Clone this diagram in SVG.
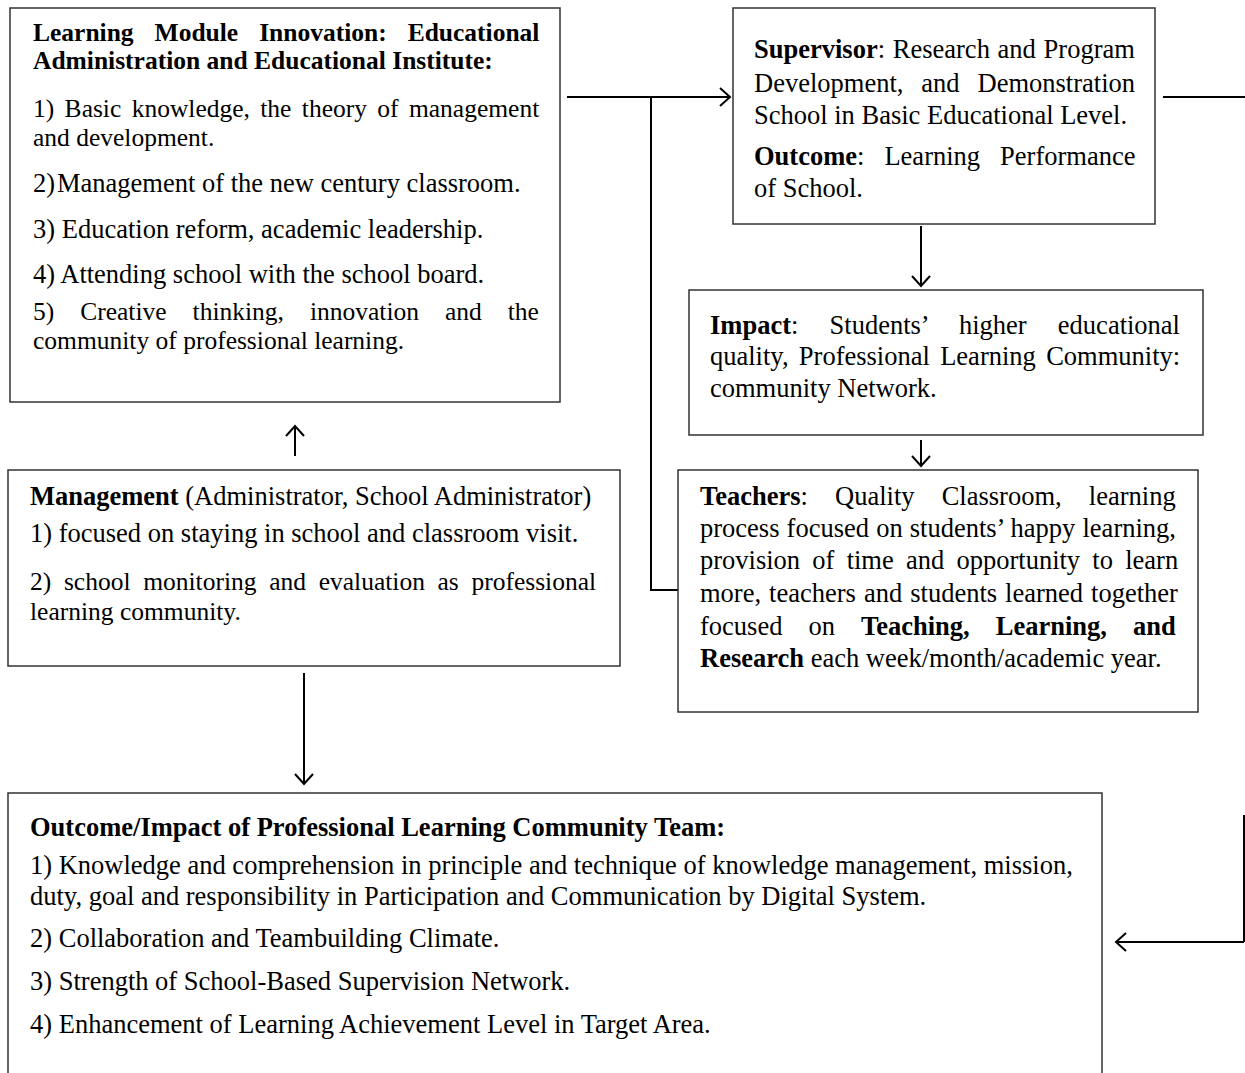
<svg xmlns="http://www.w3.org/2000/svg" width="1245" height="1073" viewBox="0 0 1245 1073">
<defs>
<marker id="ah" markerUnits="userSpaceOnUse" markerWidth="24" markerHeight="24" viewBox="-12 -12 24 24" refX="0" refY="0" orient="auto">
<path d="M-10,-9 L0,0 L-10,9" fill="none" stroke="#000" stroke-width="2"/>
</marker>
<style>
.box{fill:#fff;stroke:#333;stroke-width:1.5}
text{font-family:"Liberation Serif","Times New Roman",serif;font-size:26.5px;fill:#000}
.t{font-size:25.5px}
.b{font-weight:bold}
.ln{fill:none;stroke:#000;stroke-width:2}
.ar{fill:none;stroke:#000;stroke-width:2;marker-end:url(#ah)}
</style>
</defs>
<rect width="1245" height="1073" fill="#fff"/>

<g id="connectors">
<path class="ar" d="M567,97 H730"/>
<path class="ln" d="M651,97 V590 H678"/>
<path class="ln" d="M1163,97 H1245"/>
<path class="ln" d="M1244,815 V942"/>
<path class="ar" d="M1244,942 H1116"/>
<path class="ar" d="M921,226 V286"/>
<path class="ar" d="M921,440 V466"/>
<path class="ar" d="M295,456 V426"/>
<path class="ar" d="M304,673 V784"/>
</g>

<g id="module">
<rect class="box" x="10" y="8" width="550" height="394"/>
<text x="33" y="41" class="b t" style="word-spacing:14.6px">Learning Module Innovation: Educational</text>
<text x="33" y="69" class="b t">Administration and Educational Institute:</text>
<text x="33" y="117" class="t" style="word-spacing:4px">1) Basic knowledge, the theory of management</text>
<text x="33" y="146" class="t">and development.</text>
<text x="33" y="192">2)<tspan x="57">Management of the new century classroom.</tspan></text>
<text x="33" y="238">3) Education reform, academic leadership.</text>
<text x="33" y="283">4) Attending school with the school board.</text>
<text x="33" y="320" class="t" style="word-spacing:19.6px">5) Creative thinking, innovation and the</text>
<text x="33" y="349" class="t">community of professional learning.</text>
</g>

<g id="supervisor">
<rect class="box" x="733" y="8" width="422" height="216"/>
<text x="754" y="58" style="word-spacing:1.1px"><tspan class="b">Supervisor</tspan>: Research and Program</text>
<text x="754" y="92" style="word-spacing:11.3px">Development, and Demonstration</text>
<text x="754" y="124">School in Basic Educational Level.</text>
<text x="754" y="165" style="word-spacing:13.4px"><tspan class="b">Outcome</tspan>: Learning Performance</text>
<text x="754" y="197">of School.</text>
</g>

<g id="impact">
<rect class="box" x="689" y="290" width="514" height="145"/>
<text x="710" y="334" style="word-spacing:24.6px"><tspan class="b">Impact</tspan>: Students’ higher educational</text>
<text x="710" y="365" style="word-spacing:3.7px">quality, Professional Learning Community:</text>
<text x="710" y="397">community Network.</text>
</g>

<g id="teachers">
<rect class="box" x="678" y="470" width="520" height="242"/>
<text x="700" y="505" style="word-spacing:20.5px"><tspan class="b">Teachers</tspan>: Quality Classroom, learning</text>
<text x="700" y="537" style="word-spacing:0.5px">process focused on students’ happy learning,</text>
<text x="700" y="569" style="word-spacing:5.6px">provision of time and opportunity to learn</text>
<text x="700" y="602" style="word-spacing:1.4px">more, teachers and students learned together</text>
<text x="700" y="635" style="word-spacing:19.4px">focused on <tspan class="b">Teaching, Learning, and</tspan></text>
<text x="700" y="667"><tspan class="b">Research</tspan> each week/month/academic year.</text>
</g>

<g id="management">
<rect class="box" x="8" y="470" width="612" height="196"/>
<text x="30" y="505"><tspan class="b">Management</tspan> (Administrator, School Administrator)</text>
<text x="30" y="542">1) focused on staying in school and classroom visit.</text>
<text x="30" y="590" class="t" style="word-spacing:6.3px">2) school monitoring and evaluation as professional</text>
<text x="30" y="620" class="t">learning community.</text>
</g>

<g id="outcome">
<rect class="box" x="8" y="793" width="1094" height="290"/>
<text x="30" y="836" class="b">Outcome/Impact of Professional Learning Community Team:</text>
<text x="30" y="874">1) Knowledge and comprehension in principle and technique of knowledge management, mission,</text>
<text x="30" y="905">duty, goal and responsibility in Participation and Communication by Digital System.</text>
<text x="30" y="947">2) Collaboration and Teambuilding Climate.</text>
<text x="30" y="990">3) Strength of School-Based Supervision Network.</text>
<text x="30" y="1033">4) Enhancement of Learning Achievement Level in Target Area.</text>
</g>
</svg>
